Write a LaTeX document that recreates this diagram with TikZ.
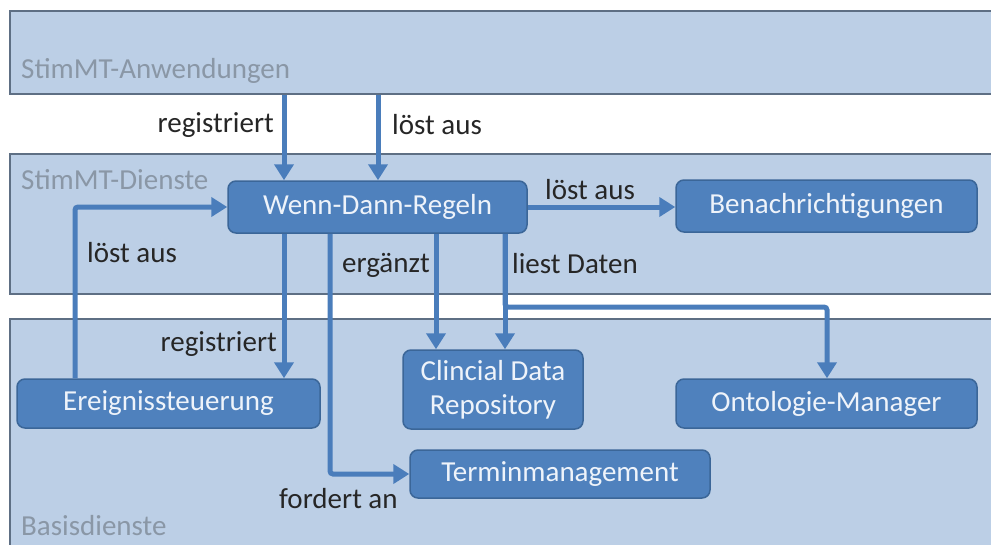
\documentclass[tikz,border=0pt]{standalone}
\usepackage{fontspec}
\setmainfont{Carlito}
\usetikzlibrary{arrows.meta,calc}

\definecolor{bandfill}{HTML}{BCCFE6}
\definecolor{bandline}{HTML}{5E6F84}
\definecolor{bandtext}{HTML}{8A97A6}
\definecolor{boxfill}{HTML}{4F81BD}
\definecolor{boxline}{HTML}{3B6698}
\definecolor{boxtext}{HTML}{EEF3FA}
\definecolor{arrowcol}{HTML}{4A7DBB}

\tikzset{
  band/.style={draw=bandline, line width=1.6pt, fill=bandfill},
  bandlabel/.style={text=bandtext, font=\fontsize{29}{34}\selectfont, inner sep=0pt, anchor=west},
  svc/.style={draw=boxline, line width=1.5pt, fill=boxfill, rounded corners=8pt,
              text=boxtext, font=\fontsize{29}{34}\selectfont, align=center, inner sep=0pt},
  rel/.style={text=black!85, font=\fontsize{29}{34}\selectfont, inner sep=0pt},
  arr/.style={draw=arrowcol, line width=5pt,
              -{Triangle[width=19pt,length=16pt]}, rounded corners=3pt},
}

\begin{document}
\begin{tikzpicture}[x=1pt,y=-1pt]
\useasboundingbox (0,0) rectangle (991,544);
\fill[white] (0,0) rectangle (991,544);
\clip (0,0) rectangle (991,544);

% layer bands
\node[band, minimum width=1000pt, minimum height=83pt, anchor=north west, inner sep=0pt] (anw) at (9,10) {};
\node[band, minimum width=1000pt, minimum height=140pt, anchor=north west, inner sep=0pt] (dienste) at (9,153) {};
\node[band, minimum width=1000pt, minimum height=240pt, anchor=north west, inner sep=0pt] (basis) at (9,318) {};

\node[bandlabel] (lanw) at (21,71) {StimMT-Anwendungen};
\node[bandlabel] (ldienste) at (21,180) {StimMT-Dienste};
\node[bandlabel] (lbasis) at (21,526) {Basisdienste};

% services
\node[svc, minimum width=299pt, minimum height=52pt] (wenn) at (377.5,207) {Wenn-Dann-Regeln};
\node[svc, minimum width=301pt, minimum height=52pt] (benach) at (826.5,206) {Benachrichtigungen};
\node[svc, minimum width=303pt, minimum height=49pt] (ereig) at (168.5,403.5) {Ereignissteuerung};
\node[svc, minimum width=180pt, minimum height=79pt] (cdr) at (493,389.5) {Clincial Data\\Repository};
\node[svc, minimum width=301pt, minimum height=49pt] (onto) at (826.5,403.5) {Ontologie-Manager};
\node[svc, minimum width=300pt, minimum height=48pt] (termin) at (560,474) {Terminmanagement};

% connector columns
\coordinate (xa) at (284,0);
\coordinate (xb) at (378,0);
\coordinate (xc) at (75,0);
\coordinate (xd) at (330,0);
\coordinate (xe) at (436,0);
\coordinate (xf) at (505,0);
\coordinate (branch) at (827,307);

% connectors
\draw[arr] (anw.south -| xa) -- (wenn.north -| xa);
\draw[arr] (anw.south -| xb) -- (wenn.north -| xb);
\draw[arr] (ereig.north -| xc) |- (wenn.west);
\draw[arr] (wenn.south -| xa) -- (ereig.north -| xa);
\draw[arr] (wenn.south -| xd) |- (termin.west);
\draw[arr] (wenn.south -| xe) -- (cdr.north -| xe);
\draw[arr] (wenn.south -| xf) -- (cdr.north -| xf);
\draw[arr] (wenn.south -| xf) |- (branch) -- (onto.north -| branch);
\draw[arr] (wenn.east) -- (benach.west |- wenn.east);

% connector labels
\node[rel, anchor=east] (r1) at (274,125) {registriert};
\node[rel, anchor=west] (r2) at (392,125) {löst aus};
\node[rel, anchor=west] (r3) at (87,253) {löst aus};
\node[rel, anchor=east] (r4) at (277,344) {registriert};
\node[rel, anchor=west] (r5) at (279,499) {fordert an};
\node[rel, anchor=west] (r6) at (342,265) {ergänzt};
\node[rel, anchor=west] (r7) at (512,264) {liest Daten};
\node[rel, anchor=west] (r8) at (545,190) {löst aus};
\end{tikzpicture}
\end{document}
